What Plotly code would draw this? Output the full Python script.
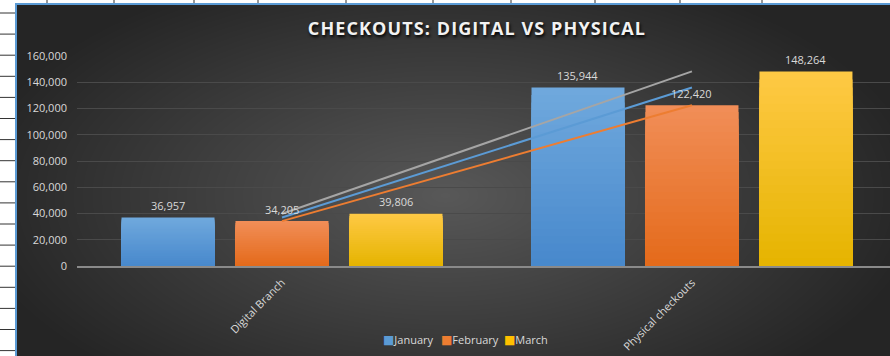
import base64
import struct
import zlib

import numpy as np
import plotly.graph_objects as go

# ---- data -------------------------------------------------------------
categories = ["Digital Branch", "Physical checkouts"]
months = ["January", "February", "March"]
january = [36957, 135944]
february = [34205, 122420]
march = [39806, 148264]
y_ticks = [0, 20000, 40000, 60000, 80000, 100000, 120000, 140000, 160000]

series = {"January": january, "February": february, "March": march}

# ---- styling ----------------------------------------------------------
W, H = 890, 356
bar_top = {"January": (0x70, 0xA9, 0xDD), "February": (0xF1, 0x8E, 0x58),
           "March": (0xFF, 0xC9, 0x45)}
bar_bottom = {"January": (0x47, 0x88, 0xCC), "February": (0xE4, 0x6A, 0x1A),
              "March": (0xE5, 0xB4, 0x00)}
swatch = {"January": "#5b9bd5", "February": "#ed7d31", "March": "#ffc000"}
trend_colors = {"January": "#5b9bd5", "February": "#ed7d31", "March": "#a5a5a5"}
text_color = "#d9d9d9"
font_family = "Open Sans"
N_SHADES = 24          # vertical gradient steps per bar
SLOT_PX = 114          # horizontal distance between bars of one group


def gray_png_uri(arr):
    """Encode a 2-D uint8 array as a grayscale PNG data URI."""
    h, w = arr.shape
    raw = b"".join(b"\x00" + arr[i].tobytes() for i in range(h))

    def chunk(tag, data):
        c = struct.pack(">I", len(data)) + tag + data
        return c + struct.pack(">I", zlib.crc32(tag + data) & 0xFFFFFFFF)

    png = b"\x89PNG\r\n\x1a\n"
    png += chunk(b"IHDR", struct.pack(">IIBBBBB", w, h, 8, 0, 0, 0, 0))
    png += chunk(b"IDAT", zlib.compress(raw, 9))
    png += chunk(b"IEND", b"")
    return "data:image/png;base64," + base64.b64encode(png).decode()


# radial dark backdrop of the chart area
yy, xx = np.mgrid[0:H, 0:W].astype(float)
r = np.sqrt(((xx - 445) / 480) ** 2 + ((yy - 195) / 240) ** 2)
shade = 0x58 - (0x58 - 0x25) * np.clip(r, 0, 1)
backdrop = gray_png_uri(shade.round().astype(np.uint8))

fig = go.Figure()

# each bar is painted as nested layers from the axis up: the full-height layer
# carries the lightest tone, each shorter layer on top of it a darker one
for m in months:
    vals = np.array(series[m], dtype=float)
    for k in range(N_SHADES):
        frac = (N_SHADES - k) / N_SHADES
        t = (N_SHADES - k - 0.5) / N_SHADES
        rgb = [round(b + (a - b) * t) for a, b in zip(bar_top[m], bar_bottom[m])]
        fig.add_trace(go.Bar(
            x=categories,
            y=vals * frac,
            offsetgroup=m,
            marker=dict(color="rgb({},{},{})".format(*rgb), line=dict(width=0)),
            showlegend=False,
            hoverinfo="skip",
        ))

# linear trendlines through each series
for m in months:
    fig.add_trace(go.Scatter(
        x=categories,
        y=series[m],
        mode="lines",
        line=dict(color=trend_colors[m], width=2),
        showlegend=False,
        hoverinfo="skip",
    ))

# value labels above the bars
annotations = []
for i, m in enumerate(months):
    for c, v in zip(categories, series[m]):
        annotations.append(dict(
            x=c, y=v, xref="x", yref="y", text=f"{v:,}",
            showarrow=False, xshift=(i - 1) * SLOT_PX, yshift=12,
            yanchor="middle", font=dict(color=text_color, size=11),
        ))

px = lambda v: v / W
py = lambda v: 1 - v / H

# legend row
legend_x = {"January": 381, "February": 439, "March": 502}
for m in months:
    annotations.append(dict(
        x=px(legend_x[m]), y=py(339), xref="paper", yref="paper",
        xanchor="left", yanchor="middle", showarrow=False,
        text=f"<span style='color:{swatch[m]};font-family:DejaVu Sans;font-size:12px'>■</span>{m}",
        font=dict(color=text_color, size=11),
    ))

# spreadsheet cell grid around the embedded chart
shapes = [
    dict(type="rect", xref="paper", yref="paper", x0=0, x1=px(15), y0=0, y1=1,
         fillcolor="white", line=dict(width=0), layer="above"),
    dict(type="rect", xref="paper", yref="paper", x0=0, x1=1, y0=py(3), y1=1,
         fillcolor="white", line=dict(width=0), layer="above"),
    dict(type="rect", xref="paper", yref="paper", x0=px(15), x1=px(17), y0=0, y1=py(3),
         fillcolor="#5b9bd5", line=dict(width=0), layer="above"),
    dict(type="rect", xref="paper", yref="paper", x0=px(15), x1=1, y0=py(5), y1=py(3),
         fillcolor="#5b9bd5", line=dict(width=0), layer="above"),
]
for k in range(17):
    yrow = 13 + 21.1 * k
    shapes.append(dict(type="line", xref="paper", yref="paper", x0=0, x1=px(15),
                       y0=py(yrow), y1=py(yrow), line=dict(color="#333333", width=1),
                       layer="above"))
for xc in [47, 114, 194, 258, 346, 433, 511, 595, 680, 762]:
    shapes.append(dict(type="line", xref="paper", yref="paper", x0=px(xc), x1=px(xc),
                       y0=py(3), y1=1, line=dict(color="#333333", width=1),
                       layer="above"))

fig.update_layout(
    width=W,
    height=H,
    autosize=False,
    margin=dict(l=0, r=0, t=0, b=0, autoexpand=False),
    paper_bgcolor="#2b2b2b",
    plot_bgcolor="rgba(0,0,0,0)",
    barmode="group",
    bargap=0.166,
    bargroupgap=0.184,
    font=dict(family=font_family, color=text_color, size=11),
    images=[dict(source=backdrop, xref="paper", yref="paper", x=0, y=1,
                 sizex=1, sizey=1, sizing="stretch", xanchor="left",
                 yanchor="top", layer="below")],
    shapes=shapes,
    annotations=annotations,
    title=dict(
        text="<span style='letter-spacing:1.1px'><b>CHECKOUTS: DIGITAL VS PHYSICAL</b></span>",
        x=477 / W, xanchor="center",
        y=py(29), yanchor="middle",
        font=dict(family=font_family, size=18, color="#f2f2f2",
                  shadow="1px 2px 3px #000000"),
    ),
    xaxis=dict(
        domain=[px(77), 1],
        range=[-0.5, 1.483],
        tickangle=-45,
        showline=True,
        linecolor="#8a8a8a",
        linewidth=2,
        showgrid=False,
        ticks="",
        ticklabelstandoff=4,
        automargin=False,
        tickfont=dict(color=text_color, size=11),
        fixedrange=True,
    ),
    yaxis=dict(
        domain=[py(266), py(56)],
        range=[0, 160000],
        tickvals=y_ticks,
        tickformat=",",
        showgrid=True,
        gridcolor="#4a4a4a",
        gridwidth=1,
        zeroline=False,
        showline=False,
        ticks="",
        ticklabelstandoff=9,
        automargin=False,
        tickfont=dict(color=text_color, size=11),
        fixedrange=True,
    ),
    showlegend=False,
)

fig.write_html("out.html")
